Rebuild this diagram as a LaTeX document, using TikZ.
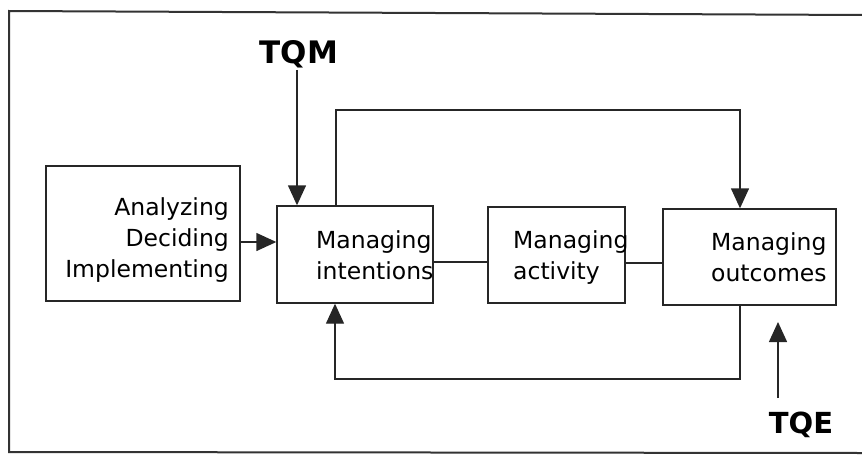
\documentclass[tikz,border=0pt]{standalone}
\usepackage{fontspec}
\setmainfont{DejaVu Sans}
\usetikzlibrary{arrows.meta}
\begin{document}
\begin{tikzpicture}[x=1pt,y=-1pt,
  box/.style={draw=black!85,line width=1.4pt,rectangle,inner sep=0pt},
  wire/.style={draw=black!85,line width=1.4pt},
  arr/.style={wire,-{Triangle[length=20pt,width=18pt]}},
  lbl/.style={font=\fontsize{23.5}{31}\selectfont,inner sep=0pt},
  tqm/.style={font=\fontsize{31}{32}\bfseries\selectfont,inner sep=0pt},
  tqe/.style={font=\fontsize{29}{32}\bfseries\selectfont,inner sep=0pt}]
\useasboundingbox (0,0) rectangle (862,455);
% outer frame (open on the right)
\draw[draw=black!80,line width=2pt] (862,15) -- (9,11) -- (9,452) -- (862,453);

% boxes
\node[box,minimum width=194pt,minimum height=135pt] (A) at (143,233.5) {};
\node[box,minimum width=156pt,minimum height=97pt] (B) at (355,254.5) {};
\node[box,minimum width=137pt,minimum height=96pt] (C) at (556.5,255) {};
\node[box,minimum width=173pt,minimum height=96pt] (D) at (749.5,257) {};

% box texts (base = baseline of the last line)
\node[lbl,anchor=base east,align=right] (tA) at (229,277)
  {Analyzing\\Deciding\\Implementing};
\node[lbl,anchor=base west,align=left] (tB) at (316,279) {Managing\\intentions};
\node[lbl,anchor=base west,align=left] (tC) at (513,279) {Managing\\activity};
\node[lbl,anchor=base west,align=left] (tD) at (711,281) {Managing\\outcomes};

% external influences
\node[tqm] (tqm) at (299,54) {TQM};
\node[tqe] (tqe) at (801,425) {TQE};

% main flow
\draw[arr] (A.east |- 0,242) -- (B.west |- 0,242);
\draw[wire] (B.east |- 0,262) -- (C.west |- 0,262);
\draw[wire] (C.east |- 0,263) -- (D.west |- 0,263);

% TQM acts on intentions
\draw[arr] (tqm.south -| 297,0) ++(0,2) -- (B.north -| 297,0);

% feed-forward from intentions to outcomes
\coordinate (f1) at (336,110);
\coordinate (f2) at (740,110);
\draw[arr] (B.north -| f1) -- (f1) -- (f2) -- (D.north -| f2);

% feedback from outcomes to intentions
\coordinate (b1) at (740,379);
\coordinate (b2) at (335,379);
\draw[arr] (D.south -| b1) -- (b1) -- (b2) -- (B.south -| b2);

% TQE acts on outcomes
\coordinate (q1) at (778,398);
\draw[arr] (q1) -- (778,322);
\end{tikzpicture}
\end{document}
